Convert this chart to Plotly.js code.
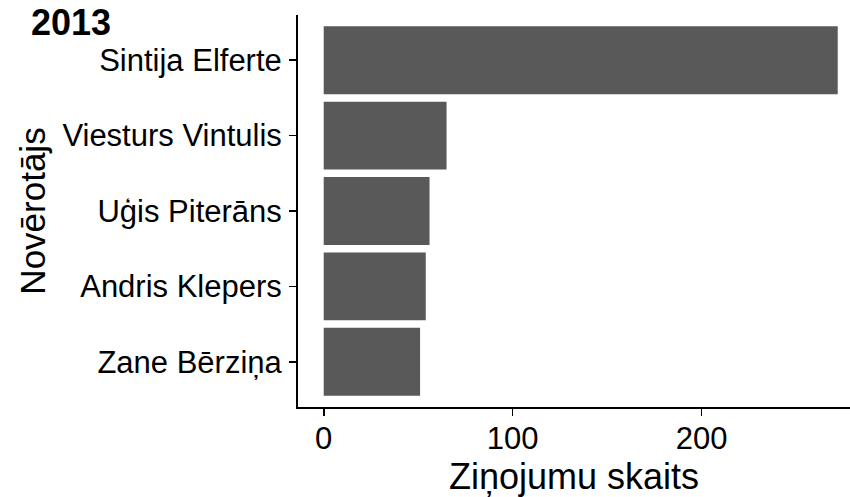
<!DOCTYPE html>
<html>
<head>
<meta charset="utf-8">
<script src="https://cdn.plot.ly/plotly-3.0.1.min.js"></script>
<style>html,body{margin:0;padding:0;background:#fff;}#chart{width:850px;height:497px;}</style>
</head>
<body>
<div id="chart"></div>
<script>
const observers = ["Sintija Elferte", "Viesturs Vintulis", "Uģis Piterāns", "Andris Klepers", "Zane Bērziņa"];
const reportCounts = [272, 65, 56, 54, 51];
const xTickValues = [0, 100, 200];
const xTickLabels = ["0", "100", "200"];
const chartTitle = "2013";
const xTitle = "Ziņojumu skaits";
const yTitle = "Novērotājs";

const FONT = "Liberation Sans, Arial, Helvetica, sans-serif";

const trace = {
  type: "bar",
  orientation: "h",
  x: reportCounts,
  y: observers,
  width: 0.9,
  marker: {color: "#595959", line: {width: 0}},
  hoverinfo: "x+y"
};

const layout = {
  width: 850,
  height: 497,
  margin: {l: 298, r: 0, t: 15, b: 90, pad: 0},
  paper_bgcolor: "#ffffff",
  plot_bgcolor: "#ffffff",
  showlegend: false,
  font: {family: FONT, color: "#000000"},
  title: {
    text: "<b>" + chartTitle + "</b>",
    font: {family: FONT, size: 36, color: "#000000"},
    x: 31 / 850, xref: "container", xanchor: "left",
    y: 1 - 10 / 497, yref: "container", yanchor: "top"
  },
  xaxis: {
    range: [-13.6, 278.5],
    tickvals: xTickValues,
    ticktext: xTickLabels,
    ticks: "outside",
    ticklen: 7,
    tickwidth: 1.6,
    tickcolor: "#000000",
    showline: true,
    linecolor: "#000000",
    linewidth: 2,
    showgrid: false,
    zeroline: false,
    ticklabelstandoff: -4,
    tickfont: {family: FONT, size: 31, color: "#000000"},
    title: {text: xTitle, font: {family: FONT, size: 36, color: "#000000"}, standoff: 8},
    fixedrange: true
  },
  yaxis: {
    type: "category",
    categoryorder: "array",
    categoryarray: observers.slice().reverse(),
    range: [-0.6, 4.6],
    ticks: "outside",
    ticklen: 7,
    tickwidth: 1.6,
    tickcolor: "#000000",
    showline: true,
    linecolor: "#000000",
    linewidth: 2,
    showgrid: false,
    zeroline: false,
    ticklabelstandoff: 1,
    tickfont: {family: FONT, size: 31, color: "#000000"},
    title: {text: yTitle, font: {family: FONT, size: 35, color: "#000000"}, standoff: 6},
    fixedrange: true
  }
};

Plotly.newPlot("chart", [trace], layout, {displayModeBar: false, staticPlot: true});
</script>
</body>
</html>
